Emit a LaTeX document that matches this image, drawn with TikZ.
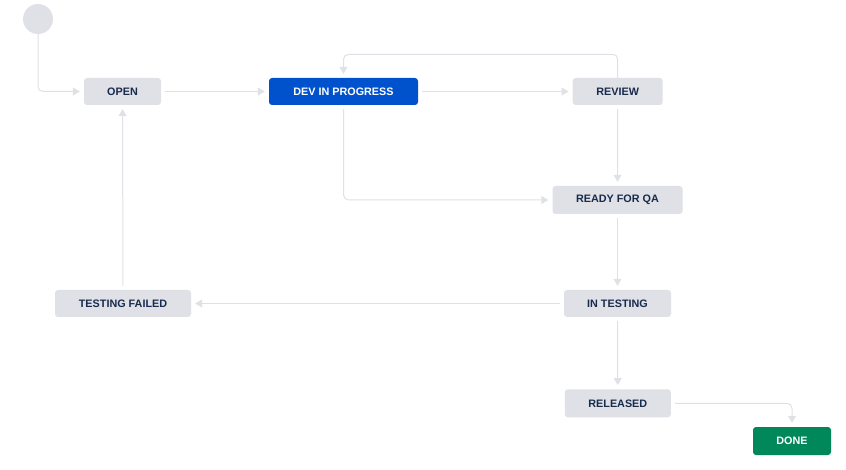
\documentclass[tikz,border=0pt]{standalone}
\usepackage{fontspec}
\setmainfont{Liberation Sans}
\usetikzlibrary{arrows.meta}

\definecolor{stategray}{HTML}{DFE1E6}
\definecolor{statetext}{HTML}{172B4D}
\definecolor{devblue}{HTML}{0052CC}
\definecolor{donegreen}{HTML}{00875A}
\definecolor{linegray}{HTML}{DFE1E6}

\tikzstyle{state} = [align=center,fill=stategray,draw=none,rectangle,rounded corners=3pt,minimum height=27pt,text=statetext,font=\fontsize{10.8}{13}\selectfont\bfseries,text centered]
\tikzstyle{trans} = [draw=linegray,line width=1pt,rounded corners=5pt,-{Triangle[width=8pt,length=7pt]},shorten >=4pt,shorten <=4pt]

\begin{document}
\begin{tikzpicture}[x=1pt,y=-1pt]
	\useasboundingbox (0,0) rectangle (846,470);
	% start
	\node (start) [circle,fill=stategray,minimum size=30pt,inner sep=0pt] at (38,19) {};
	% states
	\node (open) [state,minimum width=77pt] at (122.5,91.5) {OPEN};
	\node (dev) [state,minimum width=149pt,fill=devblue,text=white] at (343.5,91.5) {DEV IN PROGRESS};
	\node (review) [state,minimum width=90pt] at (617.7,91.5) {REVIEW};
	\node (readyqa) [state,minimum width=130pt,minimum height=28pt] at (617.5,200) {READY FOR QA};
	\node (testing) [state,minimum width=107pt] at (617.5,303.5) {IN TESTING};
	\node (failed) [state,minimum width=136pt] at (123,303.5) {TESTING FAILED};
	\node (released) [state,minimum width=106pt,minimum height=28pt] at (617.8,403.3) {RELEASED};
	\node (done) [state,minimum width=78pt,minimum height=28pt,fill=donegreen,text=white] at (792,441) {DONE};
	% connections
	\draw [trans,shorten <=0pt] (start) |- (open);
	\draw [trans] (open) -- (dev);
	\draw [trans] (dev) -- (review);
	\draw [trans,shorten <=0pt] (review.north) -- ++(0,-23.5) -| (dev.north);
	\draw [trans] (review) -- (readyqa);
	\draw [trans] (dev) |- (readyqa);
	\draw [trans] (readyqa) -- (testing);
	\draw [trans] (testing) -- (failed);
	\draw [trans] (failed) -- (open);
	\draw [trans] (testing) -- (released);
	\draw [trans] (released) -| (done);
\end{tikzpicture}
\end{document}
